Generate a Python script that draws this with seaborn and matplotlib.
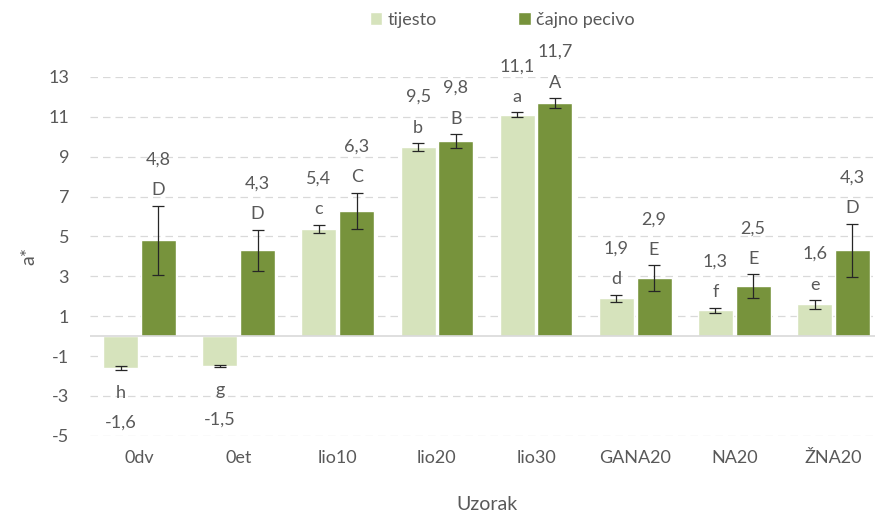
import pandas as pd
import seaborn as sns
import matplotlib.pyplot as plt
import numpy as np

# data
samples = ["0dv", "0et", "lio10", "lio20", "lio30", "GANA20", "NA20", "ŽNA20"]
tijesto = [-1.6, -1.5, 5.4, 9.5, 11.1, 1.9, 1.3, 1.6]
tijesto_err = [0.08, 0.04, 0.2, 0.2, 0.12, 0.18, 0.13, 0.22]
tijesto_letters = ["h", "g", "c", "b", "a", "d", "f", "e"]
pecivo = [4.8, 4.3, 6.3, 9.8, 11.7, 2.9, 2.5, 4.3]
pecivo_err = [1.75, 1.05, 0.9, 0.35, 0.25, 0.65, 0.6, 1.35]
pecivo_letters = ["D", "D", "C", "B", "A", "E", "E", "D"]
series = ["tijesto", "čajno pecivo"]
colors = ["#d6e3bc", "#77933c"]
yticks = [-5, -3, -1, 1, 3, 5, 7, 9, 11, 13]

grey = "#595959"
sns.set_style("white")
plt.rcParams['font.family'] = ['Lato', 'DejaVu Sans']
plt.rcParams['axes.unicode_minus'] = False

df = pd.DataFrame({
    "Uzorak": samples * 2,
    "serija": [series[0]] * len(samples) + [series[1]] * len(samples),
    "a": tijesto + pecivo,
})

fig = plt.figure(figsize=(8.75, 5.22), dpi=100)
ax = fig.add_axes([90 / 875, 0.165, 793 / 875, 0.6875])

sns.barplot(data=df, x="Uzorak", y="a", hue="serija", hue_order=series,
            palette=colors, width=0.76, gap=0.07, errorbar=None,
            saturation=1, ax=ax, legend=True)

ax.set_ylim(-5, 13)
ax.set_xlim(-0.5, len(samples) - 0.5)
ax.set_yticks(yticks)
ax.yaxis.grid(True, linestyle=(0, (6, 4)), color="#d9d9d9", linewidth=0.9)
ax.set_axisbelow(True)
ax.axhline(0, color="#d9d9d9", linewidth=1.2, zorder=1)
sns.despine(ax=ax, left=True, bottom=True)
ax.tick_params(axis="both", length=0, colors=grey, labelsize=13)
ax.tick_params(axis="x", pad=10)
ax.tick_params(axis="y", pad=15)
ax.set_xlabel("Uzorak", color=grey, fontsize=14, labelpad=22)
ax.set_ylabel("a*", color=grey, fontsize=14, labelpad=8)

# error bars and labels on top of the seaborn bars
for cont, vals, errs, letters in zip(ax.containers,
                                     [tijesto, pecivo],
                                     [tijesto_err, pecivo_err],
                                     [tijesto_letters, pecivo_letters]):
    for bar, v, e, let in zip(cont, vals, errs, letters):
        xc = bar.get_x() + bar.get_width() / 2
        ax.errorbar(xc, v, yerr=e, fmt="none", ecolor="#262626",
                    elinewidth=0.9, capsize=4, capthick=0.9, zorder=3)
        lbl = f"{v:.1f}".replace(".", ",")
        if v >= 0:
            edge = v + e
            o1, o2 = 11, 33
        else:
            edge = v - e
            o1, o2 = -17, -38
        ax.annotate(let, (xc, edge), xytext=(0, o1), textcoords="offset points",
                    ha="center", va="center", color=grey, fontsize=13,
                    annotation_clip=False)
        ax.annotate(lbl, (xc, edge), xytext=(0, o2), textcoords="offset points",
                    ha="center", va="center", color=grey, fontsize=13,
                    annotation_clip=False)

handles, labels = ax.get_legend_handles_labels()
ax.legend_.remove()
fig.legend(handles, labels, loc="center", bbox_to_anchor=(0.574, 0.962),
           ncol=2, frameon=False, handlelength=0.7, handleheight=0.7,
           handletextpad=0.3, columnspacing=4.5, fontsize=13,
           labelcolor=grey)

fig.savefig("out.png", dpi=100)
